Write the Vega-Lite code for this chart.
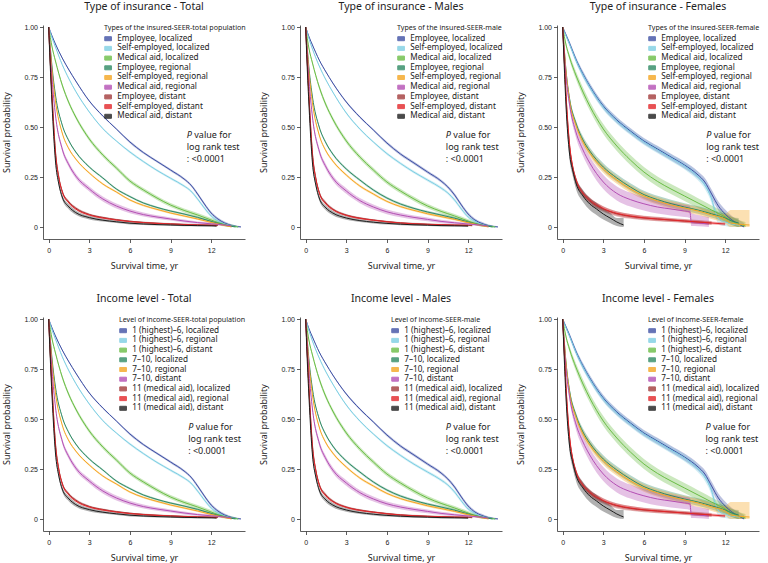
{
"$schema": "https://vega.github.io/schema/vega-lite/v6.json",
"background": "white",
"padding": {"left": 2, "right": 0, "top": 1, "bottom": 0},
"config": {
  "view": {"stroke": null},
  "font": "Noto Sans",
  "title": {"font": "Noto Sans", "fontSize": 10.5, "fontWeight": "normal", "color": "#222", "offset": 11, "anchor": "middle", "frame": "group"},
  "axis": {"grid": false, "domainColor": "#333", "domainWidth": 0.8, "tickColor": "#333", "tickWidth": 0.8, "tickSize": 3.5, "labelFont": "Liberation Sans", "labelFontSize": 7, "labelColor": "#222", "titleFont": "Noto Sans", "titleFontSize": 9, "titleFontWeight": "normal", "titleColor": "#222"},
  "axisX": {"labelPadding": 4, "titlePadding": 8},
  "axisY": {"labelPadding": 2, "titlePadding": 12, "minExtent": 20, "maxExtent": 20},
  "legend": {"orient": "top-right", "offset": -1, "padding": 0, "titleFont": "Noto Sans", "titleFontSize": 7.1, "titleFontWeight": "normal", "titleColor": "#222", "titlePadding": 3.5, "labelFont": "Noto Sans", "labelFontSize": 8.2, "labelColor": "#222", "labelOffset": 5, "rowPadding": -0.3, "symbolType": "M-1,-0.6H1V0.6H-1Z", "symbolSize": 45, "symbolOpacity": 0.8, "symbolStrokeWidth": 1}
},
"datasets": {
"tot": [
{"k":1,"t":0,"v":1,"lo":1,"hi":1},{"k":1,"t":0.25,"v":0.955,"lo":0.951,"hi":0.959},{"k":1,"t":0.5,"v":0.915,"lo":0.911,"hi":0.919},{"k":1,"t":1,"v":0.845,"lo":0.841,"hi":0.849},{"k":1,"t":1.5,"v":0.785,"lo":0.781,"hi":0.789},{"k":1,"t":2,"v":0.73,"lo":0.726,"hi":0.734},{"k":1,"t":3,"v":0.63,"lo":0.626,"hi":0.634},{"k":1,"t":4,"v":0.555,"lo":0.551,"hi":0.559},{"k":1,"t":5,"v":0.49,"lo":0.486,"hi":0.494},{"k":1,"t":6,"v":0.425,"lo":0.419,"hi":0.431},{"k":1,"t":7,"v":0.372,"lo":0.366,"hi":0.378},{"k":1,"t":8,"v":0.328,"lo":0.322,"hi":0.334},{"k":1,"t":9,"v":0.285,"lo":0.279,"hi":0.291},{"k":1,"t":10,"v":0.24,"lo":0.234,"hi":0.246},{"k":1,"t":10.5,"v":0.21,"lo":0.204,"hi":0.216},{"k":1,"t":11,"v":0.165,"lo":0.157,"hi":0.173},{"k":1,"t":11.5,"v":0.115,"lo":0.107,"hi":0.123},{"k":1,"t":12,"v":0.07,"lo":0.062,"hi":0.078},{"k":1,"t":12.5,"v":0.04,"lo":0.032,"hi":0.048},{"k":1,"t":13,"v":0.02,"lo":0.012,"hi":0.028},{"k":1,"t":13.5,"v":0.008,"lo":0.002,"hi":0.014},{"k":1,"t":14.2,"v":0,"lo":0,"hi":0.004},
{"k":2,"t":0,"v":1,"lo":1,"hi":1},{"k":2,"t":0.25,"v":0.945,"lo":0.941,"hi":0.949},{"k":2,"t":0.5,"v":0.9,"lo":0.896,"hi":0.904},{"k":2,"t":1,"v":0.812,"lo":0.808,"hi":0.816},{"k":2,"t":1.5,"v":0.74,"lo":0.736,"hi":0.744},{"k":2,"t":2,"v":0.678,"lo":0.674,"hi":0.682},{"k":2,"t":3,"v":0.575,"lo":0.571,"hi":0.579},{"k":2,"t":4,"v":0.492,"lo":0.488,"hi":0.496},{"k":2,"t":5,"v":0.43,"lo":0.426,"hi":0.434},{"k":2,"t":6,"v":0.375,"lo":0.369,"hi":0.381},{"k":2,"t":7,"v":0.327,"lo":0.321,"hi":0.333},{"k":2,"t":8,"v":0.283,"lo":0.277,"hi":0.289},{"k":2,"t":9,"v":0.244,"lo":0.238,"hi":0.25},{"k":2,"t":10,"v":0.205,"lo":0.199,"hi":0.211},{"k":2,"t":10.5,"v":0.18,"lo":0.174,"hi":0.186},{"k":2,"t":11,"v":0.14,"lo":0.132,"hi":0.148},{"k":2,"t":11.5,"v":0.095,"lo":0.087,"hi":0.103},{"k":2,"t":12,"v":0.055,"lo":0.047,"hi":0.063},{"k":2,"t":12.5,"v":0.03,"lo":0.022,"hi":0.038},{"k":2,"t":13,"v":0.015,"lo":0.007,"hi":0.023},{"k":2,"t":13.5,"v":0.006,"lo":0,"hi":0.012},{"k":2,"t":14,"v":0,"lo":0,"hi":0.004},
{"k":3,"t":0,"v":1,"lo":1,"hi":1},{"k":3,"t":0.25,"v":0.9,"lo":0.893,"hi":0.907},{"k":3,"t":0.5,"v":0.83,"lo":0.822,"hi":0.838},{"k":3,"t":1,"v":0.71,"lo":0.7,"hi":0.72},{"k":3,"t":1.5,"v":0.62,"lo":0.61,"hi":0.63},{"k":3,"t":2,"v":0.55,"lo":0.54,"hi":0.56},{"k":3,"t":3,"v":0.44,"lo":0.43,"hi":0.45},{"k":3,"t":4,"v":0.36,"lo":0.35,"hi":0.37},{"k":3,"t":5,"v":0.295,"lo":0.285,"hi":0.305},{"k":3,"t":6,"v":0.23,"lo":0.22,"hi":0.24},{"k":3,"t":7,"v":0.185,"lo":0.175,"hi":0.195},{"k":3,"t":8,"v":0.145,"lo":0.135,"hi":0.155},{"k":3,"t":9,"v":0.11,"lo":0.1,"hi":0.12},{"k":3,"t":10,"v":0.083,"lo":0.073,"hi":0.093},{"k":3,"t":11,"v":0.06,"lo":0.05,"hi":0.07},{"k":3,"t":12,"v":0.035,"lo":0.025,"hi":0.045},{"k":3,"t":12.5,"v":0.022,"lo":0.012,"hi":0.032},{"k":3,"t":13,"v":0.012,"lo":0.004,"hi":0.02},{"k":3,"t":13.5,"v":0.005,"lo":0,"hi":0.012},{"k":3,"t":14,"v":0,"lo":0,"hi":0.004},
{"k":4,"t":0,"v":1,"lo":1,"hi":1},{"k":4,"t":0.25,"v":0.8,"lo":0.795,"hi":0.805},{"k":4,"t":0.5,"v":0.66,"lo":0.655,"hi":0.665},{"k":4,"t":1,"v":0.51,"lo":0.505,"hi":0.515},{"k":4,"t":1.5,"v":0.43,"lo":0.425,"hi":0.435},{"k":4,"t":2,"v":0.375,"lo":0.37,"hi":0.38},{"k":4,"t":3,"v":0.3,"lo":0.295,"hi":0.305},{"k":4,"t":4,"v":0.245,"lo":0.24,"hi":0.25},{"k":4,"t":5,"v":0.19,"lo":0.185,"hi":0.195},{"k":4,"t":6,"v":0.152,"lo":0.147,"hi":0.157},{"k":4,"t":7,"v":0.12,"lo":0.115,"hi":0.125},{"k":4,"t":8,"v":0.098,"lo":0.093,"hi":0.103},{"k":4,"t":9,"v":0.08,"lo":0.075,"hi":0.085},{"k":4,"t":10,"v":0.065,"lo":0.06,"hi":0.07},{"k":4,"t":11,"v":0.048,"lo":0.043,"hi":0.053},{"k":4,"t":12,"v":0.028,"lo":0.022,"hi":0.034},{"k":4,"t":13,"v":0.01,"lo":0.005,"hi":0.016},{"k":4,"t":13.8,"v":0,"lo":0,"hi":0.004},
{"k":5,"t":0,"v":1,"lo":1,"hi":1},{"k":5,"t":0.25,"v":0.78,"lo":0.775,"hi":0.785},{"k":5,"t":0.5,"v":0.63,"lo":0.625,"hi":0.635},{"k":5,"t":1,"v":0.47,"lo":0.465,"hi":0.475},{"k":5,"t":1.5,"v":0.39,"lo":0.385,"hi":0.395},{"k":5,"t":2,"v":0.34,"lo":0.335,"hi":0.345},{"k":5,"t":3,"v":0.27,"lo":0.265,"hi":0.275},{"k":5,"t":4,"v":0.215,"lo":0.21,"hi":0.22},{"k":5,"t":5,"v":0.175,"lo":0.17,"hi":0.18},{"k":5,"t":6,"v":0.135,"lo":0.13,"hi":0.14},{"k":5,"t":7,"v":0.108,"lo":0.103,"hi":0.113},{"k":5,"t":8,"v":0.088,"lo":0.083,"hi":0.093},{"k":5,"t":9,"v":0.07,"lo":0.065,"hi":0.075},{"k":5,"t":10,"v":0.055,"lo":0.05,"hi":0.06},{"k":5,"t":11,"v":0.04,"lo":0.035,"hi":0.045},{"k":5,"t":12,"v":0.023,"lo":0.018,"hi":0.028},{"k":5,"t":13,"v":0.008,"lo":0.003,"hi":0.013},{"k":5,"t":13.5,"v":0,"lo":0,"hi":0.004},
{"k":6,"t":0,"v":1,"lo":1,"hi":1},{"k":6,"t":0.25,"v":0.74,"lo":0.732,"hi":0.748},{"k":6,"t":0.5,"v":0.56,"lo":0.55,"hi":0.57},{"k":6,"t":1,"v":0.39,"lo":0.378,"hi":0.402},{"k":6,"t":1.5,"v":0.31,"lo":0.298,"hi":0.322},{"k":6,"t":2,"v":0.255,"lo":0.243,"hi":0.267},{"k":6,"t":3,"v":0.19,"lo":0.178,"hi":0.202},{"k":6,"t":4,"v":0.14,"lo":0.128,"hi":0.152},{"k":6,"t":5,"v":0.105,"lo":0.093,"hi":0.117},{"k":6,"t":6,"v":0.08,"lo":0.069,"hi":0.091},{"k":6,"t":7,"v":0.062,"lo":0.052,"hi":0.072},{"k":6,"t":8,"v":0.05,"lo":0.041,"hi":0.059},{"k":6,"t":9,"v":0.04,"lo":0.032,"hi":0.048},{"k":6,"t":10,"v":0.03,"lo":0.023,"hi":0.037},{"k":6,"t":11,"v":0.022,"lo":0.016,"hi":0.028},{"k":6,"t":12,"v":0.016,"lo":0.01,"hi":0.022},{"k":6,"t":13,"v":0.01,"lo":0.005,"hi":0.015},{"k":6,"t":13.5,"v":0.005,"lo":0.001,"hi":0.009},
{"k":7,"t":0,"v":1,"lo":1,"hi":1},{"k":7,"t":0.1,"v":0.85,"lo":0.844,"hi":0.856},{"k":7,"t":0.25,"v":0.66,"lo":0.654,"hi":0.666},{"k":7,"t":0.5,"v":0.38,"lo":0.374,"hi":0.386},{"k":7,"t":0.75,"v":0.25,"lo":0.244,"hi":0.256},{"k":7,"t":1,"v":0.18,"lo":0.174,"hi":0.186},{"k":7,"t":1.5,"v":0.125,"lo":0.119,"hi":0.131},{"k":7,"t":2,"v":0.095,"lo":0.089,"hi":0.101},{"k":7,"t":3,"v":0.063,"lo":0.058,"hi":0.068},{"k":7,"t":4,"v":0.048,"lo":0.043,"hi":0.053},{"k":7,"t":5,"v":0.037,"lo":0.033,"hi":0.041},{"k":7,"t":6,"v":0.029,"lo":0.025,"hi":0.033},{"k":7,"t":7,"v":0.023,"lo":0.019,"hi":0.027},{"k":7,"t":8,"v":0.019,"lo":0.015,"hi":0.023},{"k":7,"t":9,"v":0.016,"lo":0.012,"hi":0.02},{"k":7,"t":10,"v":0.013,"lo":0.009,"hi":0.017},{"k":7,"t":11,"v":0.011,"lo":0.007,"hi":0.015},{"k":7,"t":12,"v":0.009,"lo":0.005,"hi":0.013},{"k":7,"t":12.5,"v":0.008,"lo":0.004,"hi":0.012},
{"k":8,"t":0,"v":1,"lo":1,"hi":1},{"k":8,"t":0.1,"v":0.85,"lo":0.845,"hi":0.855},{"k":8,"t":0.25,"v":0.65,"lo":0.645,"hi":0.655},{"k":8,"t":0.5,"v":0.37,"lo":0.365,"hi":0.375},{"k":8,"t":0.75,"v":0.245,"lo":0.24,"hi":0.25},{"k":8,"t":1,"v":0.175,"lo":0.17,"hi":0.18},{"k":8,"t":1.5,"v":0.12,"lo":0.115,"hi":0.125},{"k":8,"t":2,"v":0.09,"lo":0.085,"hi":0.095},{"k":8,"t":3,"v":0.06,"lo":0.056,"hi":0.064},{"k":8,"t":4,"v":0.045,"lo":0.041,"hi":0.049},{"k":8,"t":5,"v":0.035,"lo":0.031,"hi":0.039},{"k":8,"t":6,"v":0.027,"lo":0.024,"hi":0.03},{"k":8,"t":7,"v":0.022,"lo":0.019,"hi":0.025},{"k":8,"t":8,"v":0.018,"lo":0.015,"hi":0.021},{"k":8,"t":9,"v":0.015,"lo":0.012,"hi":0.018},{"k":8,"t":10,"v":0.012,"lo":0.009,"hi":0.015},{"k":8,"t":11,"v":0.01,"lo":0.007,"hi":0.013},{"k":8,"t":12,"v":0.008,"lo":0.005,"hi":0.011},{"k":8,"t":12.4,"v":0.007,"lo":0.004,"hi":0.01},
{"k":9,"t":0,"v":1,"lo":1,"hi":1},{"k":9,"t":0.1,"v":0.83,"lo":0.82,"hi":0.84},{"k":9,"t":0.25,"v":0.61,"lo":0.598,"hi":0.622},{"k":9,"t":0.5,"v":0.33,"lo":0.318,"hi":0.342},{"k":9,"t":0.75,"v":0.215,"lo":0.203,"hi":0.227},{"k":9,"t":1,"v":0.15,"lo":0.138,"hi":0.162},{"k":9,"t":1.5,"v":0.1,"lo":0.088,"hi":0.112},{"k":9,"t":2,"v":0.072,"lo":0.061,"hi":0.083},{"k":9,"t":3,"v":0.047,"lo":0.038,"hi":0.056},{"k":9,"t":4,"v":0.034,"lo":0.027,"hi":0.041},{"k":9,"t":5,"v":0.026,"lo":0.02,"hi":0.032},{"k":9,"t":6,"v":0.019,"lo":0.013,"hi":0.025},{"k":9,"t":7,"v":0.015,"lo":0.01,"hi":0.02},{"k":9,"t":8,"v":0.012,"lo":0.007,"hi":0.017},{"k":9,"t":9,"v":0.01,"lo":0.006,"hi":0.014},{"k":9,"t":10,"v":0.008,"lo":0.004,"hi":0.012},{"k":9,"t":11,"v":0.007,"lo":0.003,"hi":0.011},{"k":9,"t":12,"v":0.006,"lo":0.002,"hi":0.01},{"k":9,"t":12.4,"v":0.005,"lo":0.001,"hi":0.009}
],
"mal": [
{"k":1,"t":0,"v":1,"lo":1,"hi":1},{"k":1,"t":0.25,"v":0.95,"lo":0.946,"hi":0.954},{"k":1,"t":0.5,"v":0.91,"lo":0.906,"hi":0.914},{"k":1,"t":1,"v":0.835,"lo":0.831,"hi":0.839},{"k":1,"t":1.5,"v":0.775,"lo":0.771,"hi":0.779},{"k":1,"t":2,"v":0.72,"lo":0.716,"hi":0.724},{"k":1,"t":3,"v":0.625,"lo":0.62,"hi":0.63},{"k":1,"t":4,"v":0.55,"lo":0.545,"hi":0.555},{"k":1,"t":5,"v":0.485,"lo":0.48,"hi":0.49},{"k":1,"t":6,"v":0.42,"lo":0.413,"hi":0.427},{"k":1,"t":7,"v":0.365,"lo":0.358,"hi":0.372},{"k":1,"t":8,"v":0.32,"lo":0.313,"hi":0.327},{"k":1,"t":9,"v":0.275,"lo":0.268,"hi":0.282},{"k":1,"t":10,"v":0.23,"lo":0.223,"hi":0.237},{"k":1,"t":10.5,"v":0.2,"lo":0.193,"hi":0.207},{"k":1,"t":11,"v":0.16,"lo":0.151,"hi":0.169},{"k":1,"t":11.5,"v":0.11,"lo":0.101,"hi":0.119},{"k":1,"t":12,"v":0.065,"lo":0.056,"hi":0.074},{"k":1,"t":12.5,"v":0.035,"lo":0.027,"hi":0.043},{"k":1,"t":13,"v":0.018,"lo":0.01,"hi":0.026},{"k":1,"t":13.5,"v":0.007,"lo":0.001,"hi":0.013},{"k":1,"t":14.2,"v":0,"lo":0,"hi":0.004},
{"k":2,"t":0,"v":1,"lo":1,"hi":1},{"k":2,"t":0.25,"v":0.94,"lo":0.936,"hi":0.944},{"k":2,"t":0.5,"v":0.89,"lo":0.886,"hi":0.894},{"k":2,"t":1,"v":0.805,"lo":0.801,"hi":0.809},{"k":2,"t":1.5,"v":0.735,"lo":0.731,"hi":0.739},{"k":2,"t":2,"v":0.675,"lo":0.671,"hi":0.679},{"k":2,"t":3,"v":0.57,"lo":0.565,"hi":0.575},{"k":2,"t":4,"v":0.49,"lo":0.485,"hi":0.495},{"k":2,"t":5,"v":0.425,"lo":0.42,"hi":0.43},{"k":2,"t":6,"v":0.367,"lo":0.36,"hi":0.374},{"k":2,"t":7,"v":0.318,"lo":0.311,"hi":0.325},{"k":2,"t":8,"v":0.274,"lo":0.267,"hi":0.281},{"k":2,"t":9,"v":0.235,"lo":0.228,"hi":0.242},{"k":2,"t":10,"v":0.195,"lo":0.188,"hi":0.202},{"k":2,"t":10.5,"v":0.17,"lo":0.163,"hi":0.177},{"k":2,"t":11,"v":0.135,"lo":0.126,"hi":0.144},{"k":2,"t":11.5,"v":0.09,"lo":0.081,"hi":0.099},{"k":2,"t":12,"v":0.05,"lo":0.042,"hi":0.058},{"k":2,"t":12.5,"v":0.028,"lo":0.02,"hi":0.036},{"k":2,"t":13,"v":0.013,"lo":0.006,"hi":0.02},{"k":2,"t":13.5,"v":0.005,"lo":0,"hi":0.011},{"k":2,"t":14,"v":0,"lo":0,"hi":0.004},
{"k":3,"t":0,"v":1,"lo":1,"hi":1},{"k":3,"t":0.25,"v":0.89,"lo":0.882,"hi":0.898},{"k":3,"t":0.5,"v":0.82,"lo":0.811,"hi":0.829},{"k":3,"t":1,"v":0.7,"lo":0.689,"hi":0.711},{"k":3,"t":1.5,"v":0.61,"lo":0.599,"hi":0.621},{"k":3,"t":2,"v":0.54,"lo":0.529,"hi":0.551},{"k":3,"t":3,"v":0.43,"lo":0.419,"hi":0.441},{"k":3,"t":4,"v":0.35,"lo":0.339,"hi":0.361},{"k":3,"t":5,"v":0.285,"lo":0.274,"hi":0.296},{"k":3,"t":6,"v":0.225,"lo":0.214,"hi":0.236},{"k":3,"t":7,"v":0.18,"lo":0.169,"hi":0.191},{"k":3,"t":8,"v":0.14,"lo":0.129,"hi":0.151},{"k":3,"t":9,"v":0.105,"lo":0.094,"hi":0.116},{"k":3,"t":10,"v":0.078,"lo":0.068,"hi":0.088},{"k":3,"t":11,"v":0.055,"lo":0.045,"hi":0.065},{"k":3,"t":12,"v":0.03,"lo":0.021,"hi":0.039},{"k":3,"t":12.5,"v":0.018,"lo":0.01,"hi":0.026},{"k":3,"t":13,"v":0.01,"lo":0.003,"hi":0.017},{"k":3,"t":13.5,"v":0.004,"lo":0,"hi":0.01},{"k":3,"t":14,"v":0,"lo":0,"hi":0.004},
{"k":4,"t":0,"v":1,"lo":1,"hi":1},{"k":4,"t":0.25,"v":0.79,"lo":0.784,"hi":0.796},{"k":4,"t":0.5,"v":0.65,"lo":0.644,"hi":0.656},{"k":4,"t":1,"v":0.5,"lo":0.494,"hi":0.506},{"k":4,"t":1.5,"v":0.42,"lo":0.414,"hi":0.426},{"k":4,"t":2,"v":0.365,"lo":0.359,"hi":0.371},{"k":4,"t":3,"v":0.29,"lo":0.284,"hi":0.296},{"k":4,"t":4,"v":0.235,"lo":0.229,"hi":0.241},{"k":4,"t":5,"v":0.185,"lo":0.179,"hi":0.191},{"k":4,"t":6,"v":0.145,"lo":0.139,"hi":0.151},{"k":4,"t":7,"v":0.115,"lo":0.109,"hi":0.121},{"k":4,"t":8,"v":0.093,"lo":0.087,"hi":0.099},{"k":4,"t":9,"v":0.075,"lo":0.069,"hi":0.081},{"k":4,"t":10,"v":0.06,"lo":0.054,"hi":0.066},{"k":4,"t":11,"v":0.044,"lo":0.038,"hi":0.05},{"k":4,"t":12,"v":0.025,"lo":0.019,"hi":0.031},{"k":4,"t":13,"v":0.009,"lo":0.004,"hi":0.014},{"k":4,"t":13.8,"v":0,"lo":0,"hi":0.004},
{"k":5,"t":0,"v":1,"lo":1,"hi":1},{"k":5,"t":0.25,"v":0.77,"lo":0.764,"hi":0.776},{"k":5,"t":0.5,"v":0.62,"lo":0.614,"hi":0.626},{"k":5,"t":1,"v":0.46,"lo":0.454,"hi":0.466},{"k":5,"t":1.5,"v":0.38,"lo":0.374,"hi":0.386},{"k":5,"t":2,"v":0.33,"lo":0.324,"hi":0.336},{"k":5,"t":3,"v":0.26,"lo":0.254,"hi":0.266},{"k":5,"t":4,"v":0.205,"lo":0.199,"hi":0.211},{"k":5,"t":5,"v":0.165,"lo":0.159,"hi":0.171},{"k":5,"t":6,"v":0.128,"lo":0.122,"hi":0.134},{"k":5,"t":7,"v":0.102,"lo":0.096,"hi":0.108},{"k":5,"t":8,"v":0.083,"lo":0.077,"hi":0.089},{"k":5,"t":9,"v":0.066,"lo":0.06,"hi":0.072},{"k":5,"t":10,"v":0.052,"lo":0.046,"hi":0.058},{"k":5,"t":11,"v":0.038,"lo":0.032,"hi":0.044},{"k":5,"t":12,"v":0.022,"lo":0.016,"hi":0.028},{"k":5,"t":13,"v":0.007,"lo":0.002,"hi":0.012},{"k":5,"t":13.5,"v":0,"lo":0,"hi":0.004},
{"k":6,"t":0,"v":1,"lo":1,"hi":1},{"k":6,"t":0.25,"v":0.73,"lo":0.72,"hi":0.74},{"k":6,"t":0.5,"v":0.55,"lo":0.538,"hi":0.562},{"k":6,"t":1,"v":0.38,"lo":0.366,"hi":0.394},{"k":6,"t":1.5,"v":0.3,"lo":0.286,"hi":0.314},{"k":6,"t":2,"v":0.245,"lo":0.231,"hi":0.259},{"k":6,"t":3,"v":0.18,"lo":0.166,"hi":0.194},{"k":6,"t":4,"v":0.132,"lo":0.119,"hi":0.145},{"k":6,"t":5,"v":0.1,"lo":0.087,"hi":0.113},{"k":6,"t":6,"v":0.076,"lo":0.064,"hi":0.088},{"k":6,"t":7,"v":0.06,"lo":0.049,"hi":0.071},{"k":6,"t":8,"v":0.048,"lo":0.038,"hi":0.058},{"k":6,"t":9,"v":0.038,"lo":0.029,"hi":0.047},{"k":6,"t":10,"v":0.028,"lo":0.02,"hi":0.036},{"k":6,"t":11,"v":0.021,"lo":0.014,"hi":0.028},{"k":6,"t":12,"v":0.015,"lo":0.009,"hi":0.021},{"k":6,"t":13,"v":0.009,"lo":0.004,"hi":0.014},{"k":6,"t":13.5,"v":0.004,"lo":0.001,"hi":0.008},
{"k":7,"t":0,"v":1,"lo":1,"hi":1},{"k":7,"t":0.1,"v":0.85,"lo":0.843,"hi":0.857},{"k":7,"t":0.25,"v":0.65,"lo":0.643,"hi":0.657},{"k":7,"t":0.5,"v":0.37,"lo":0.363,"hi":0.377},{"k":7,"t":0.75,"v":0.245,"lo":0.238,"hi":0.252},{"k":7,"t":1,"v":0.175,"lo":0.168,"hi":0.182},{"k":7,"t":1.5,"v":0.12,"lo":0.113,"hi":0.127},{"k":7,"t":2,"v":0.09,"lo":0.084,"hi":0.096},{"k":7,"t":3,"v":0.06,"lo":0.055,"hi":0.065},{"k":7,"t":4,"v":0.045,"lo":0.04,"hi":0.05},{"k":7,"t":5,"v":0.035,"lo":0.031,"hi":0.039},{"k":7,"t":6,"v":0.027,"lo":0.023,"hi":0.031},{"k":7,"t":7,"v":0.021,"lo":0.017,"hi":0.025},{"k":7,"t":8,"v":0.017,"lo":0.013,"hi":0.021},{"k":7,"t":9,"v":0.014,"lo":0.01,"hi":0.018},{"k":7,"t":10,"v":0.012,"lo":0.008,"hi":0.016},{"k":7,"t":11,"v":0.01,"lo":0.006,"hi":0.014},{"k":7,"t":12,"v":0.008,"lo":0.004,"hi":0.012},{"k":7,"t":12.3,"v":0.007,"lo":0.003,"hi":0.011},
{"k":8,"t":0,"v":1,"lo":1,"hi":1},{"k":8,"t":0.1,"v":0.85,"lo":0.844,"hi":0.856},{"k":8,"t":0.25,"v":0.64,"lo":0.634,"hi":0.646},{"k":8,"t":0.5,"v":0.36,"lo":0.354,"hi":0.366},{"k":8,"t":0.75,"v":0.24,"lo":0.234,"hi":0.246},{"k":8,"t":1,"v":0.17,"lo":0.164,"hi":0.176},{"k":8,"t":1.5,"v":0.115,"lo":0.109,"hi":0.121},{"k":8,"t":2,"v":0.087,"lo":0.082,"hi":0.092},{"k":8,"t":3,"v":0.058,"lo":0.054,"hi":0.062},{"k":8,"t":4,"v":0.043,"lo":0.039,"hi":0.047},{"k":8,"t":5,"v":0.034,"lo":0.03,"hi":0.038},{"k":8,"t":6,"v":0.026,"lo":0.022,"hi":0.03},{"k":8,"t":7,"v":0.02,"lo":0.017,"hi":0.023},{"k":8,"t":8,"v":0.016,"lo":0.013,"hi":0.019},{"k":8,"t":9,"v":0.013,"lo":0.01,"hi":0.016},{"k":8,"t":10,"v":0.011,"lo":0.008,"hi":0.014},{"k":8,"t":11,"v":0.009,"lo":0.006,"hi":0.012},{"k":8,"t":12,"v":0.008,"lo":0.004,"hi":0.012},
{"k":9,"t":0,"v":1,"lo":1,"hi":1},{"k":9,"t":0.1,"v":0.82,"lo":0.808,"hi":0.832},{"k":9,"t":0.25,"v":0.6,"lo":0.586,"hi":0.614},{"k":9,"t":0.5,"v":0.32,"lo":0.306,"hi":0.334},{"k":9,"t":0.75,"v":0.21,"lo":0.197,"hi":0.223},{"k":9,"t":1,"v":0.145,"lo":0.132,"hi":0.158},{"k":9,"t":1.5,"v":0.095,"lo":0.083,"hi":0.107},{"k":9,"t":2,"v":0.07,"lo":0.059,"hi":0.081},{"k":9,"t":3,"v":0.045,"lo":0.036,"hi":0.054},{"k":9,"t":4,"v":0.032,"lo":0.025,"hi":0.039},{"k":9,"t":5,"v":0.024,"lo":0.018,"hi":0.03},{"k":9,"t":6,"v":0.018,"lo":0.012,"hi":0.024},{"k":9,"t":7,"v":0.014,"lo":0.009,"hi":0.019},{"k":9,"t":8,"v":0.011,"lo":0.006,"hi":0.016},{"k":9,"t":9,"v":0.009,"lo":0.005,"hi":0.013},{"k":9,"t":10,"v":0.007,"lo":0.003,"hi":0.011},{"k":9,"t":11,"v":0.006,"lo":0.002,"hi":0.01},{"k":9,"t":12,"v":0.005,"lo":0.001,"hi":0.009}
],
"fem": [
{"k":1,"t":0,"v":1,"lo":1,"hi":1},{"k":1,"t":0.25,"v":0.96,"lo":0.952,"hi":0.968},{"k":1,"t":0.5,"v":0.92,"lo":0.91,"hi":0.93},{"k":1,"t":1,"v":0.835,"lo":0.822,"hi":0.848},{"k":1,"t":1.5,"v":0.765,"lo":0.75,"hi":0.78},{"k":1,"t":2,"v":0.705,"lo":0.69,"hi":0.72},{"k":1,"t":3,"v":0.605,"lo":0.59,"hi":0.62},{"k":1,"t":4,"v":0.535,"lo":0.52,"hi":0.55},{"k":1,"t":5,"v":0.48,"lo":0.465,"hi":0.495},{"k":1,"t":6,"v":0.43,"lo":0.415,"hi":0.445},{"k":1,"t":7,"v":0.39,"lo":0.374,"hi":0.406},{"k":1,"t":8,"v":0.35,"lo":0.334,"hi":0.366},{"k":1,"t":9,"v":0.31,"lo":0.293,"hi":0.327},{"k":1,"t":10,"v":0.26,"lo":0.242,"hi":0.278},{"k":1,"t":10.5,"v":0.225,"lo":0.205,"hi":0.245},{"k":1,"t":11,"v":0.165,"lo":0.143,"hi":0.187},{"k":1,"t":11.5,"v":0.105,"lo":0.083,"hi":0.127},{"k":1,"t":12,"v":0.065,"lo":0.043,"hi":0.087},{"k":1,"t":12.5,"v":0.035,"lo":0.015,"hi":0.055},{"k":1,"t":13,"v":0.015,"lo":0,"hi":0.035},{"k":1,"t":13.4,"v":0,"lo":0,"hi":0.02},
{"k":2,"t":0,"v":1,"lo":1,"hi":1},{"k":2,"t":0.25,"v":0.955,"lo":0.947,"hi":0.963},{"k":2,"t":0.5,"v":0.915,"lo":0.905,"hi":0.925},{"k":2,"t":1,"v":0.83,"lo":0.817,"hi":0.843},{"k":2,"t":1.5,"v":0.76,"lo":0.745,"hi":0.775},{"k":2,"t":2,"v":0.7,"lo":0.685,"hi":0.715},{"k":2,"t":3,"v":0.6,"lo":0.585,"hi":0.615},{"k":2,"t":4,"v":0.53,"lo":0.515,"hi":0.545},{"k":2,"t":5,"v":0.475,"lo":0.46,"hi":0.49},{"k":2,"t":6,"v":0.425,"lo":0.41,"hi":0.44},{"k":2,"t":7,"v":0.385,"lo":0.369,"hi":0.401},{"k":2,"t":8,"v":0.345,"lo":0.329,"hi":0.361},{"k":2,"t":9,"v":0.305,"lo":0.288,"hi":0.322},{"k":2,"t":10,"v":0.25,"lo":0.232,"hi":0.268},{"k":2,"t":10.5,"v":0.21,"lo":0.19,"hi":0.23},{"k":2,"t":11,"v":0.14,"lo":0.118,"hi":0.162},{"k":2,"t":11.3,"v":0.07,"lo":0.045,"hi":0.095},{"k":2,"t":11.6,"v":0.035,"lo":0.01,"hi":0.06},{"k":2,"t":12,"v":0.025,"lo":0.005,"hi":0.05},{"k":2,"t":12.5,"v":0.015,"lo":0,"hi":0.045},{"k":2,"t":13,"v":0.01,"lo":0,"hi":0.04},
{"k":3,"t":0,"v":1,"lo":1,"hi":1},{"k":3,"t":0.25,"v":0.91,"lo":0.9,"hi":0.92},{"k":3,"t":0.5,"v":0.85,"lo":0.835,"hi":0.865},{"k":3,"t":1,"v":0.755,"lo":0.735,"hi":0.775},{"k":3,"t":1.5,"v":0.675,"lo":0.653,"hi":0.697},{"k":3,"t":2,"v":0.605,"lo":0.582,"hi":0.628},{"k":3,"t":3,"v":0.49,"lo":0.465,"hi":0.515},{"k":3,"t":4,"v":0.405,"lo":0.38,"hi":0.43},{"k":3,"t":5,"v":0.335,"lo":0.31,"hi":0.36},{"k":3,"t":6,"v":0.275,"lo":0.25,"hi":0.3},{"k":3,"t":7,"v":0.228,"lo":0.203,"hi":0.253},{"k":3,"t":8,"v":0.19,"lo":0.165,"hi":0.215},{"k":3,"t":9,"v":0.155,"lo":0.13,"hi":0.18},{"k":3,"t":10,"v":0.12,"lo":0.096,"hi":0.144},{"k":3,"t":11,"v":0.085,"lo":0.062,"hi":0.108},{"k":3,"t":12,"v":0.05,"lo":0.028,"hi":0.072},{"k":3,"t":12.5,"v":0.03,"lo":0.01,"hi":0.05},{"k":3,"t":13,"v":0.015,"lo":0,"hi":0.035},{"k":3,"t":13.5,"v":0.005,"lo":0,"hi":0.025},
{"k":4,"t":0,"v":1,"lo":1,"hi":1},{"k":4,"t":0.25,"v":0.78,"lo":0.77,"hi":0.79},{"k":4,"t":0.5,"v":0.645,"lo":0.632,"hi":0.658},{"k":4,"t":1,"v":0.515,"lo":0.5,"hi":0.53},{"k":4,"t":1.5,"v":0.435,"lo":0.418,"hi":0.452},{"k":4,"t":2,"v":0.38,"lo":0.362,"hi":0.398},{"k":4,"t":3,"v":0.3,"lo":0.281,"hi":0.319},{"k":4,"t":4,"v":0.245,"lo":0.226,"hi":0.264},{"k":4,"t":5,"v":0.2,"lo":0.181,"hi":0.219},{"k":4,"t":6,"v":0.162,"lo":0.143,"hi":0.181},{"k":4,"t":7,"v":0.137,"lo":0.118,"hi":0.156},{"k":4,"t":8,"v":0.117,"lo":0.098,"hi":0.136},{"k":4,"t":9,"v":0.1,"lo":0.081,"hi":0.119},{"k":4,"t":10,"v":0.085,"lo":0.066,"hi":0.104},{"k":4,"t":11,"v":0.066,"lo":0.047,"hi":0.085},{"k":4,"t":12,"v":0.045,"lo":0.025,"hi":0.065},{"k":4,"t":12.5,"v":0.03,"lo":0.01,"hi":0.05},{"k":4,"t":13,"v":0.02,"lo":0,"hi":0.045},
{"k":5,"t":0,"v":1,"lo":1,"hi":1},{"k":5,"t":0.25,"v":0.775,"lo":0.765,"hi":0.785},{"k":5,"t":0.5,"v":0.635,"lo":0.622,"hi":0.648},{"k":5,"t":1,"v":0.505,"lo":0.49,"hi":0.52},{"k":5,"t":1.5,"v":0.425,"lo":0.408,"hi":0.442},{"k":5,"t":2,"v":0.37,"lo":0.352,"hi":0.388},{"k":5,"t":3,"v":0.29,"lo":0.271,"hi":0.309},{"k":5,"t":4,"v":0.235,"lo":0.216,"hi":0.254},{"k":5,"t":5,"v":0.19,"lo":0.171,"hi":0.209},{"k":5,"t":6,"v":0.155,"lo":0.136,"hi":0.174},{"k":5,"t":7,"v":0.13,"lo":0.111,"hi":0.149},{"k":5,"t":8,"v":0.11,"lo":0.09,"hi":0.13},{"k":5,"t":9,"v":0.095,"lo":0.075,"hi":0.115},{"k":5,"t":10,"v":0.08,"lo":0.06,"hi":0.1},{"k":5,"t":11,"v":0.06,"lo":0.04,"hi":0.08},{"k":5,"t":12,"v":0.04,"lo":0.018,"hi":0.065},{"k":5,"t":12.4,"v":0.02,"lo":0,"hi":0.085},{"k":5,"t":13.8,"v":0.01,"lo":0,"hi":0.085},
{"k":6,"t":0,"v":1,"lo":1,"hi":1},{"k":6,"t":0.25,"v":0.75,"lo":0.735,"hi":0.765},{"k":6,"t":0.5,"v":0.615,"lo":0.595,"hi":0.635},{"k":6,"t":1,"v":0.47,"lo":0.443,"hi":0.497},{"k":6,"t":1.5,"v":0.385,"lo":0.355,"hi":0.415},{"k":6,"t":2,"v":0.32,"lo":0.288,"hi":0.352},{"k":6,"t":3,"v":0.225,"lo":0.19,"hi":0.26},{"k":6,"t":4,"v":0.168,"lo":0.133,"hi":0.203},{"k":6,"t":5,"v":0.137,"lo":0.102,"hi":0.172},{"k":6,"t":6,"v":0.116,"lo":0.082,"hi":0.15},{"k":6,"t":7,"v":0.1,"lo":0.067,"hi":0.133},{"k":6,"t":8,"v":0.09,"lo":0.058,"hi":0.122},{"k":6,"t":9,"v":0.08,"lo":0.05,"hi":0.11},{"k":6,"t":9.4,"v":0.075,"lo":0.045,"hi":0.105},{"k":6,"t":9.5,"v":0.022,"lo":0.005,"hi":0.07},{"k":6,"t":10,"v":0.02,"lo":0.004,"hi":0.06},{"k":6,"t":10.8,"v":0.015,"lo":0,"hi":0.05},
{"k":7,"t":0,"v":1,"lo":1,"hi":1},{"k":7,"t":0.1,"v":0.86,"lo":0.85,"hi":0.87},{"k":7,"t":0.25,"v":0.65,"lo":0.637,"hi":0.663},{"k":7,"t":0.5,"v":0.41,"lo":0.395,"hi":0.425},{"k":7,"t":0.75,"v":0.29,"lo":0.275,"hi":0.305},{"k":7,"t":1,"v":0.225,"lo":0.21,"hi":0.24},{"k":7,"t":1.5,"v":0.165,"lo":0.15,"hi":0.18},{"k":7,"t":2,"v":0.13,"lo":0.115,"hi":0.145},{"k":7,"t":3,"v":0.09,"lo":0.076,"hi":0.104},{"k":7,"t":4,"v":0.066,"lo":0.053,"hi":0.079},{"k":7,"t":5,"v":0.053,"lo":0.041,"hi":0.065},{"k":7,"t":6,"v":0.045,"lo":0.034,"hi":0.056},{"k":7,"t":7,"v":0.04,"lo":0.029,"hi":0.051},{"k":7,"t":8,"v":0.035,"lo":0.025,"hi":0.045},{"k":7,"t":9,"v":0.03,"lo":0.02,"hi":0.04},{"k":7,"t":10,"v":0.025,"lo":0.015,"hi":0.035},{"k":7,"t":11,"v":0.02,"lo":0.01,"hi":0.03},
{"k":8,"t":0,"v":1,"lo":1,"hi":1},{"k":8,"t":0.1,"v":0.86,"lo":0.852,"hi":0.868},{"k":8,"t":0.25,"v":0.66,"lo":0.65,"hi":0.67},{"k":8,"t":0.5,"v":0.42,"lo":0.408,"hi":0.432},{"k":8,"t":0.75,"v":0.3,"lo":0.288,"hi":0.312},{"k":8,"t":1,"v":0.235,"lo":0.223,"hi":0.247},{"k":8,"t":1.5,"v":0.17,"lo":0.158,"hi":0.182},{"k":8,"t":2,"v":0.135,"lo":0.123,"hi":0.147},{"k":8,"t":3,"v":0.092,"lo":0.081,"hi":0.103},{"k":8,"t":4,"v":0.068,"lo":0.058,"hi":0.078},{"k":8,"t":5,"v":0.055,"lo":0.045,"hi":0.065},{"k":8,"t":6,"v":0.046,"lo":0.037,"hi":0.055},{"k":8,"t":7,"v":0.04,"lo":0.031,"hi":0.049},{"k":8,"t":8,"v":0.035,"lo":0.027,"hi":0.043},{"k":8,"t":9,"v":0.03,"lo":0.022,"hi":0.038},{"k":8,"t":10,"v":0.025,"lo":0.017,"hi":0.033},{"k":8,"t":11,"v":0.02,"lo":0.013,"hi":0.027},{"k":8,"t":12,"v":0.015,"lo":0.008,"hi":0.022},
{"k":9,"t":0,"v":1,"lo":1,"hi":1},{"k":9,"t":0.1,"v":0.83,"lo":0.815,"hi":0.845},{"k":9,"t":0.25,"v":0.6,"lo":0.578,"hi":0.622},{"k":9,"t":0.5,"v":0.37,"lo":0.343,"hi":0.397},{"k":9,"t":0.75,"v":0.28,"lo":0.252,"hi":0.308},{"k":9,"t":1,"v":0.215,"lo":0.186,"hi":0.244},{"k":9,"t":1.5,"v":0.155,"lo":0.125,"hi":0.185},{"k":9,"t":2,"v":0.115,"lo":0.085,"hi":0.145},{"k":9,"t":2.5,"v":0.09,"lo":0.06,"hi":0.12},{"k":9,"t":3,"v":0.065,"lo":0.037,"hi":0.093},{"k":9,"t":3.5,"v":0.045,"lo":0.02,"hi":0.07},{"k":9,"t":4,"v":0.025,"lo":0.005,"hi":0.045},{"k":9,"t":4.5,"v":0.01,"lo":0,"hi":0.045}
]
},
"resolve": {"scale": {"color": "independent"}, "legend": {"color": "independent"}},
"spacing": 22,
"vconcat": [
{"hconcat": [
{"title": "Type of insurance - Total", "width": 202, "height": 214, "data": {"name": "tot"},
 "encoding": {"x": {"field": "t", "type": "quantitative", "scale": {"domain": [-0.42, 14.5], "nice": false, "zero": false}, "axis": {"values": [0,3,6,9,12], "title": "Survival time, yr"}},
  "color": {"field": "k", "type": "nominal", "scale": {"domain": [1,2,3,4,5,6,7,8,9], "range": ["#3F51A5","#7ECFE3","#6ABD45","#2F8A64","#F5A623","#B44FB4","#A33B3B","#E3262A","#1E1E1E"]}, "legend": {"title": "Types of the insured-SEER-total population", "labelExpr": "['Employee, localized','Self-employed, localized','Medical aid, localized','Employee, regional','Self-employed, regional','Medical aid, regional','Employee, distant','Self-employed, distant','Medical aid, distant'][datum.value-1]"}}},
 "layer": [
  {"mark": {"type": "area", "opacity": 0.35, "interpolate": "monotone"}, "encoding": {"y": {"field": "lo", "type": "quantitative", "scale": {"domain": [-0.06, 1.01], "nice": false, "zero": false}, "axis": {"values": [0,0.25,0.5,0.75,1], "title": "Survival probability", "labelExpr": "datum.value == 0 ? '0' : format(datum.value, '.2f')"}}, "y2": {"field": "hi"}}},
  {"mark": {"type": "line", "strokeWidth": 1, "interpolate": "monotone"}, "encoding": {"y": {"field": "v", "type": "quantitative", "scale": {"domain": [-0.06, 1.01], "nice": false, "zero": false}, "axis": {"values": [0,0.25,0.5,0.75,1], "title": "Survival probability", "labelExpr": "datum.value == 0 ? '0' : format(datum.value, '.2f')"}}}},
  {"data": {"values": [{"t": 10.2, "v": 0.46}]}, "mark": {"type": "text", "text": "P", "fontStyle": "italic", "align": "left", "baseline": "middle", "fontSize": 9}, "encoding": {"y": {"field": "v", "type": "quantitative"}, "color": {"value": "#222"}}},
  {"data": {"values": [{"t": 10.2, "v": 0.46}]}, "mark": {"type": "text", "text": "value for", "align": "left", "baseline": "middle", "fontSize": 9, "dx": 7.5}, "encoding": {"y": {"field": "v", "type": "quantitative"}, "color": {"value": "#222"}}},
  {"data": {"values": [{"t": 10.2, "v": 0.4}]}, "mark": {"type": "text", "text": "log rank test", "align": "left", "baseline": "middle", "fontSize": 9}, "encoding": {"y": {"field": "v", "type": "quantitative"}, "color": {"value": "#222"}}},
  {"data": {"values": [{"t": 10.2, "v": 0.341}]}, "mark": {"type": "text", "text": ": <0.0001", "align": "left", "baseline": "middle", "fontSize": 9}, "encoding": {"y": {"field": "v", "type": "quantitative"}, "color": {"value": "#222"}}}
 ]},
{"title": "Type of insurance - Males", "width": 202, "height": 214, "data": {"name": "mal"},
 "encoding": {"x": {"field": "t", "type": "quantitative", "scale": {"domain": [-0.42, 14.5], "nice": false, "zero": false}, "axis": {"values": [0,3,6,9,12], "title": "Survival time, yr"}},
  "color": {"field": "k", "type": "nominal", "scale": {"domain": [1,2,3,4,5,6,7,8,9], "range": ["#3F51A5","#7ECFE3","#6ABD45","#2F8A64","#F5A623","#B44FB4","#A33B3B","#E3262A","#1E1E1E"]}, "legend": {"title": "Types of the insured-SEER-male", "labelExpr": "['Employee, localized','Self-employed, localized','Medical aid, localized','Employee, regional','Self-employed, regional','Medical aid, regional','Employee, distant','Self-employed, distant','Medical aid, distant'][datum.value-1]"}}},
 "layer": [
  {"mark": {"type": "area", "opacity": 0.35, "interpolate": "monotone"}, "encoding": {"y": {"field": "lo", "type": "quantitative", "scale": {"domain": [-0.06, 1.01], "nice": false, "zero": false}, "axis": {"values": [0,0.25,0.5,0.75,1], "title": "Survival probability", "labelExpr": "datum.value == 0 ? '0' : format(datum.value, '.2f')"}}, "y2": {"field": "hi"}}},
  {"mark": {"type": "line", "strokeWidth": 1, "interpolate": "monotone"}, "encoding": {"y": {"field": "v", "type": "quantitative", "scale": {"domain": [-0.06, 1.01], "nice": false, "zero": false}, "axis": {"values": [0,0.25,0.5,0.75,1], "title": "Survival probability", "labelExpr": "datum.value == 0 ? '0' : format(datum.value, '.2f')"}}}},
  {"data": {"values": [{"t": 10.35, "v": 0.46}]}, "mark": {"type": "text", "text": "P", "fontStyle": "italic", "align": "left", "baseline": "middle", "fontSize": 9}, "encoding": {"y": {"field": "v", "type": "quantitative"}, "color": {"value": "#222"}}},
  {"data": {"values": [{"t": 10.35, "v": 0.46}]}, "mark": {"type": "text", "text": "value for", "align": "left", "baseline": "middle", "fontSize": 9, "dx": 7.5}, "encoding": {"y": {"field": "v", "type": "quantitative"}, "color": {"value": "#222"}}},
  {"data": {"values": [{"t": 10.35, "v": 0.4}]}, "mark": {"type": "text", "text": "log rank test", "align": "left", "baseline": "middle", "fontSize": 9}, "encoding": {"y": {"field": "v", "type": "quantitative"}, "color": {"value": "#222"}}},
  {"data": {"values": [{"t": 10.35, "v": 0.341}]}, "mark": {"type": "text", "text": ": <0.0001", "align": "left", "baseline": "middle", "fontSize": 9}, "encoding": {"y": {"field": "v", "type": "quantitative"}, "color": {"value": "#222"}}}
 ]},
{"title": "Type of insurance - Females", "width": 202, "height": 214, "data": {"name": "fem"},
 "encoding": {"x": {"field": "t", "type": "quantitative", "scale": {"domain": [-0.42, 14.5], "nice": false, "zero": false}, "axis": {"values": [0,3,6,9,12], "title": "Survival time, yr"}},
  "color": {"field": "k", "type": "nominal", "scale": {"domain": [1,2,3,4,5,6,7,8,9], "range": ["#3F51A5","#7ECFE3","#6ABD45","#2F8A64","#F5A623","#B44FB4","#A33B3B","#E3262A","#1E1E1E"]}, "legend": {"title": "Types of the insured-SEER-female", "labelExpr": "['Employee, localized','Self-employed, localized','Medical aid, localized','Employee, regional','Self-employed, regional','Medical aid, regional','Employee, distant','Self-employed, distant','Medical aid, distant'][datum.value-1]"}}},
 "layer": [
  {"mark": {"type": "area", "opacity": 0.35, "interpolate": "monotone"}, "encoding": {"y": {"field": "lo", "type": "quantitative", "scale": {"domain": [-0.06, 1.01], "nice": false, "zero": false}, "axis": {"values": [0,0.25,0.5,0.75,1], "title": "Survival probability", "labelExpr": "datum.value == 0 ? '0' : format(datum.value, '.2f')"}}, "y2": {"field": "hi"}}},
  {"mark": {"type": "line", "strokeWidth": 1, "interpolate": "monotone"}, "encoding": {"y": {"field": "v", "type": "quantitative", "scale": {"domain": [-0.06, 1.01], "nice": false, "zero": false}, "axis": {"values": [0,0.25,0.5,0.75,1], "title": "Survival probability", "labelExpr": "datum.value == 0 ? '0' : format(datum.value, '.2f')"}}}},
  {"data": {"values": [{"t": 10.6, "v": 0.46}]}, "mark": {"type": "text", "text": "P", "fontStyle": "italic", "align": "left", "baseline": "middle", "fontSize": 9}, "encoding": {"y": {"field": "v", "type": "quantitative"}, "color": {"value": "#222"}}},
  {"data": {"values": [{"t": 10.6, "v": 0.46}]}, "mark": {"type": "text", "text": "value for", "align": "left", "baseline": "middle", "fontSize": 9, "dx": 7.5}, "encoding": {"y": {"field": "v", "type": "quantitative"}, "color": {"value": "#222"}}},
  {"data": {"values": [{"t": 10.6, "v": 0.4}]}, "mark": {"type": "text", "text": "log rank test", "align": "left", "baseline": "middle", "fontSize": 9}, "encoding": {"y": {"field": "v", "type": "quantitative"}, "color": {"value": "#222"}}},
  {"data": {"values": [{"t": 10.6, "v": 0.341}]}, "mark": {"type": "text", "text": ": <0.0001", "align": "left", "baseline": "middle", "fontSize": 9}, "encoding": {"y": {"field": "v", "type": "quantitative"}, "color": {"value": "#222"}}}
 ]}
], "spacing": 13, "resolve": {"scale": {"color": "independent"}, "legend": {"color": "independent"}}},
{"hconcat": [
{"title": "Income level - Total", "width": 202, "height": 214, "data": {"name": "tot"},
 "encoding": {"x": {"field": "t", "type": "quantitative", "scale": {"domain": [-0.42, 14.5], "nice": false, "zero": false}, "axis": {"values": [0,3,6,9,12], "title": "Survival time, yr"}},
  "color": {"field": "k", "type": "nominal", "scale": {"domain": [1,2,3,4,5,6,7,8,9], "range": ["#3F51A5","#7ECFE3","#6ABD45","#2F8A64","#F5A623","#B44FB4","#A33B3B","#E3262A","#1E1E1E"]}, "legend": {"title": "Level of income-SEER-total population", "labelExpr": "['1 (highest)–6, localized','1 (highest)–6, regional','1 (highest)–6, distant','7–10, localized','7–10, regional','7–10, distant','11 (medical aid), localized','11 (medical aid), regional','11 (medical aid), distant'][datum.value-1]"}}},
 "layer": [
  {"mark": {"type": "area", "opacity": 0.35, "interpolate": "monotone"}, "encoding": {"y": {"field": "lo", "type": "quantitative", "scale": {"domain": [-0.06, 1.01], "nice": false, "zero": false}, "axis": {"values": [0,0.25,0.5,0.75,1], "title": "Survival probability", "labelExpr": "datum.value == 0 ? '0' : format(datum.value, '.2f')"}}, "y2": {"field": "hi"}}},
  {"mark": {"type": "line", "strokeWidth": 1, "interpolate": "monotone"}, "encoding": {"y": {"field": "v", "type": "quantitative", "scale": {"domain": [-0.06, 1.01], "nice": false, "zero": false}, "axis": {"values": [0,0.25,0.5,0.75,1], "title": "Survival probability", "labelExpr": "datum.value == 0 ? '0' : format(datum.value, '.2f')"}}}},
  {"data": {"values": [{"t": 10.3, "v": 0.46}]}, "mark": {"type": "text", "text": "P", "fontStyle": "italic", "align": "left", "baseline": "middle", "fontSize": 9}, "encoding": {"y": {"field": "v", "type": "quantitative"}, "color": {"value": "#222"}}},
  {"data": {"values": [{"t": 10.3, "v": 0.46}]}, "mark": {"type": "text", "text": "value for", "align": "left", "baseline": "middle", "fontSize": 9, "dx": 7.5}, "encoding": {"y": {"field": "v", "type": "quantitative"}, "color": {"value": "#222"}}},
  {"data": {"values": [{"t": 10.3, "v": 0.4}]}, "mark": {"type": "text", "text": "log rank test", "align": "left", "baseline": "middle", "fontSize": 9}, "encoding": {"y": {"field": "v", "type": "quantitative"}, "color": {"value": "#222"}}},
  {"data": {"values": [{"t": 10.3, "v": 0.341}]}, "mark": {"type": "text", "text": ": <0.0001", "align": "left", "baseline": "middle", "fontSize": 9}, "encoding": {"y": {"field": "v", "type": "quantitative"}, "color": {"value": "#222"}}}
 ]},
{"title": "Income level - Males", "width": 202, "height": 214, "data": {"name": "mal"},
 "encoding": {"x": {"field": "t", "type": "quantitative", "scale": {"domain": [-0.42, 14.5], "nice": false, "zero": false}, "axis": {"values": [0,3,6,9,12], "title": "Survival time, yr"}},
  "color": {"field": "k", "type": "nominal", "scale": {"domain": [1,2,3,4,5,6,7,8,9], "range": ["#3F51A5","#7ECFE3","#6ABD45","#2F8A64","#F5A623","#B44FB4","#A33B3B","#E3262A","#1E1E1E"]}, "legend": {"title": "Level of income-SEER-male", "labelExpr": "['1 (highest)–6, localized','1 (highest)–6, regional','1 (highest)–6, distant','7–10, localized','7–10, regional','7–10, distant','11 (medical aid), localized','11 (medical aid), regional','11 (medical aid), distant'][datum.value-1]"}}},
 "layer": [
  {"mark": {"type": "area", "opacity": 0.35, "interpolate": "monotone"}, "encoding": {"y": {"field": "lo", "type": "quantitative", "scale": {"domain": [-0.06, 1.01], "nice": false, "zero": false}, "axis": {"values": [0,0.25,0.5,0.75,1], "title": "Survival probability", "labelExpr": "datum.value == 0 ? '0' : format(datum.value, '.2f')"}}, "y2": {"field": "hi"}}},
  {"mark": {"type": "line", "strokeWidth": 1, "interpolate": "monotone"}, "encoding": {"y": {"field": "v", "type": "quantitative", "scale": {"domain": [-0.06, 1.01], "nice": false, "zero": false}, "axis": {"values": [0,0.25,0.5,0.75,1], "title": "Survival probability", "labelExpr": "datum.value == 0 ? '0' : format(datum.value, '.2f')"}}}},
  {"data": {"values": [{"t": 10.35, "v": 0.46}]}, "mark": {"type": "text", "text": "P", "fontStyle": "italic", "align": "left", "baseline": "middle", "fontSize": 9}, "encoding": {"y": {"field": "v", "type": "quantitative"}, "color": {"value": "#222"}}},
  {"data": {"values": [{"t": 10.35, "v": 0.46}]}, "mark": {"type": "text", "text": "value for", "align": "left", "baseline": "middle", "fontSize": 9, "dx": 7.5}, "encoding": {"y": {"field": "v", "type": "quantitative"}, "color": {"value": "#222"}}},
  {"data": {"values": [{"t": 10.35, "v": 0.4}]}, "mark": {"type": "text", "text": "log rank test", "align": "left", "baseline": "middle", "fontSize": 9}, "encoding": {"y": {"field": "v", "type": "quantitative"}, "color": {"value": "#222"}}},
  {"data": {"values": [{"t": 10.35, "v": 0.341}]}, "mark": {"type": "text", "text": ": <0.0001", "align": "left", "baseline": "middle", "fontSize": 9}, "encoding": {"y": {"field": "v", "type": "quantitative"}, "color": {"value": "#222"}}}
 ]},
{"title": "Income level - Females", "width": 202, "height": 214, "data": {"name": "fem"},
 "encoding": {"x": {"field": "t", "type": "quantitative", "scale": {"domain": [-0.42, 14.5], "nice": false, "zero": false}, "axis": {"values": [0,3,6,9,12], "title": "Survival time, yr"}},
  "color": {"field": "k", "type": "nominal", "scale": {"domain": [1,2,3,4,5,6,7,8,9], "range": ["#3F51A5","#7ECFE3","#6ABD45","#2F8A64","#F5A623","#B44FB4","#A33B3B","#E3262A","#1E1E1E"]}, "legend": {"title": "Level of income-SEER-female", "labelExpr": "['1 (highest)–6, localized','1 (highest)–6, regional','1 (highest)–6, distant','7–10, localized','7–10, regional','7–10, distant','11 (medical aid), localized','11 (medical aid), regional','11 (medical aid), distant'][datum.value-1]"}}},
 "layer": [
  {"mark": {"type": "area", "opacity": 0.35, "interpolate": "monotone"}, "encoding": {"y": {"field": "lo", "type": "quantitative", "scale": {"domain": [-0.06, 1.01], "nice": false, "zero": false}, "axis": {"values": [0,0.25,0.5,0.75,1], "title": "Survival probability", "labelExpr": "datum.value == 0 ? '0' : format(datum.value, '.2f')"}}, "y2": {"field": "hi"}}},
  {"mark": {"type": "line", "strokeWidth": 1, "interpolate": "monotone"}, "encoding": {"y": {"field": "v", "type": "quantitative", "scale": {"domain": [-0.06, 1.01], "nice": false, "zero": false}, "axis": {"values": [0,0.25,0.5,0.75,1], "title": "Survival probability", "labelExpr": "datum.value == 0 ? '0' : format(datum.value, '.2f')"}}}},
  {"data": {"values": [{"t": 10.55, "v": 0.46}]}, "mark": {"type": "text", "text": "P", "fontStyle": "italic", "align": "left", "baseline": "middle", "fontSize": 9}, "encoding": {"y": {"field": "v", "type": "quantitative"}, "color": {"value": "#222"}}},
  {"data": {"values": [{"t": 10.55, "v": 0.46}]}, "mark": {"type": "text", "text": "value for", "align": "left", "baseline": "middle", "fontSize": 9, "dx": 7.5}, "encoding": {"y": {"field": "v", "type": "quantitative"}, "color": {"value": "#222"}}},
  {"data": {"values": [{"t": 10.55, "v": 0.4}]}, "mark": {"type": "text", "text": "log rank test", "align": "left", "baseline": "middle", "fontSize": 9}, "encoding": {"y": {"field": "v", "type": "quantitative"}, "color": {"value": "#222"}}},
  {"data": {"values": [{"t": 10.55, "v": 0.341}]}, "mark": {"type": "text", "text": ": <0.0001", "align": "left", "baseline": "middle", "fontSize": 9}, "encoding": {"y": {"field": "v", "type": "quantitative"}, "color": {"value": "#222"}}}
 ]}
], "spacing": 13, "resolve": {"scale": {"color": "independent"}, "legend": {"color": "independent"}}}
]
}
